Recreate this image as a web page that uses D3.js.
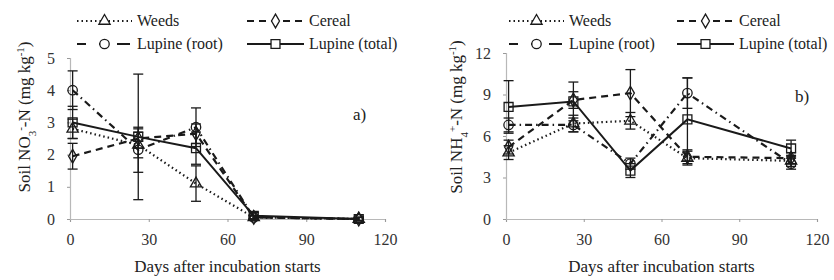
<!DOCTYPE html>
<html>
<head>
<meta charset="utf-8">
<script src="https://cdn.jsdelivr.net/npm/d3@7"></script>
<style>
  body { margin: 0; background: #fff; }
  svg { font-family: "Liberation Serif", "DejaVu Serif", serif; }
</style>
</head>
<body>
<div id="chart"></div>
<script>
// days of sampling
var days = [1, 26, 48, 70, 110];

// panel a) soil NO3-N
var no3Weeds = [2.8, 2.3, 1.1, 0.05, 0.0];
var no3Cereal = [1.95, 2.5, 2.65, 0.05, 0.0];
var no3Root = [4.0, 2.15, 2.85, 0.05, 0.0];
var no3Total = [3.0, 2.55, 2.2, 0.1, 0.0];
var no3WeedsErr = [0.3, 0.4, 0.55, 0.05, 0.05];
var no3CerealErr = [0.4, 0.3, 0.3, 0.05, 0.05];
var no3RootErr = [0.6, 0.7, 0.6, 0.05, 0.05];
var no3TotalErr = [0.5, 1.95, 0.5, 0.1, 0.05];

// panel b) soil NH4-N
var nh4Weeds = [4.8, 6.9, 7.1, 4.4, 4.2];
var nh4Cereal = [5.2, 8.6, 9.1, 4.5, 4.4];
var nh4Root = [6.8, 6.8, 4.0, 9.1, 4.0];
var nh4Total = [8.1, 8.5, 3.5, 7.2, 5.1];
var nh4WeedsErr = [0.5, 0.6, 0.6, 0.5, 0.4];
var nh4CerealErr = [0.5, 0.6, 1.7, 0.5, 0.4];
var nh4RootErr = [0.5, 0.5, 0.4, 1.1, 0.4];
var nh4TotalErr = [1.9, 1.4, 0.5, 3.0, 0.6];

var xTicks = [0, 30, 60, 90, 120];
var no3Ticks = [0, 1, 2, 3, 4, 5];
var nh4Ticks = [0, 3, 6, 9, 12];
var seriesNames = ["Weeds", "Cereal", "Lupine (root)", "Lupine (total)"];

var ink = "#1a1a1a";
var dashes = ["1.5,3", "7,5", "7,4,1.5,4", null];
var shapes = [d3.symbolTriangle, d3.symbolDiamond, d3.symbolCircle, d3.symbolSquare];
var sizes = [55, 55, 70, 80];
var serif = "'Liberation Serif', 'DejaVu Serif', serif";

var svg = d3.select("#chart").append("svg")
    .attr("width", 834)
    .attr("height", 280);

function drawPanel(cfg) {
    var x = d3.scaleLinear().domain([0, 120]).range([cfg.left, cfg.right]);
    var y = d3.scaleLinear().domain([0, cfg.ymax]).range([219, cfg.top]);
    var g = svg.append("g");

    // axes
    var xa = g.append("g").attr("transform", "translate(0,219)")
        .call(d3.axisBottom(x).tickValues(xTicks).tickFormat(d3.format("d")).tickSize(3).tickPadding(12));
    var ya = g.append("g").attr("transform", "translate(" + cfg.left + ",0)")
        .call(d3.axisLeft(y).tickValues(cfg.ticks).tickFormat(d3.format("d")).tickSize(3).tickPadding(12));
    [xa, ya].forEach(function(a) {
        a.attr("font-family", serif).attr("font-size", 16);
        a.select(".domain").attr("stroke", "#b8b8b8").attr("stroke-width", 1.2);
        a.selectAll(".tick line").attr("stroke", "#999");
        a.selectAll("text").attr("fill", "#333");
    });

    var line = d3.line().x(function(d) { return x(d[0]); }).y(function(d) { return y(d[1]); });

    cfg.series.forEach(function(vals, k) {
        var pts = days.map(function(d, i) { return [d, vals[i], cfg.errs[k][i]]; });
        g.append("path").datum(pts)
            .attr("d", line)
            .attr("fill", "none")
            .attr("stroke", ink)
            .attr("stroke-width", k == 3 ? 2 : 2.2)
            .attr("stroke-dasharray", dashes[k]);
        // error bars
        var eb = g.selectAll(".eb" + k).data(pts).enter().append("g");
        eb.append("line")
            .attr("x1", function(d) { return x(d[0]); })
            .attr("x2", function(d) { return x(d[0]); })
            .attr("y1", function(d) { return y(d[1] - d[2]); })
            .attr("y2", function(d) { return y(d[1] + d[2]); })
            .attr("stroke", ink).attr("stroke-width", 1.3);
        [-1, 1].forEach(function(s) {
            eb.append("line")
                .attr("x1", function(d) { return x(d[0]) - 5; })
                .attr("x2", function(d) { return x(d[0]) + 5; })
                .attr("y1", function(d) { return y(d[1] + s * d[2]); })
                .attr("y2", function(d) { return y(d[1] + s * d[2]); })
                .attr("stroke", ink).attr("stroke-width", 1.3);
        });
    });
    cfg.series.forEach(function(vals, k) {
        g.selectAll(".mk" + k).data(vals).enter().append("path")
            .attr("d", d3.symbol().type(shapes[k]).size(sizes[k]))
            .attr("transform", function(d, i) { return "translate(" + x(days[i]) + "," + y(d) + ")"; })
            .attr("fill", "none")
            .attr("stroke", ink).attr("stroke-width", 1.3);
    });

    // legend
    var lg = [[cfg.lx1, 21], [cfg.lx2, 21], [cfg.lx1, 44], [cfg.lx2, 44]];
    seriesNames.forEach(function(name, k) {
        var lx = lg[k][0], ly = lg[k][1];
        var w = k == 0 || k == 2 ? 55 : 57;
        g.append("line").attr("x1", lx).attr("x2", lx + w).attr("y1", ly).attr("y2", ly)
            .attr("stroke", ink).attr("stroke-width", 2)
            .attr("stroke-dasharray", k == 2 ? "9,13,9" : dashes[k]);
        g.append("path").attr("d", d3.symbol().type(shapes[k]).size(sizes[k]))
            .attr("transform", "translate(" + (lx + w / 2) + "," + ly + ")")
            .attr("fill", "#fff").attr("stroke", ink).attr("stroke-width", 1.3);
        g.append("text").attr("x", lx + w + 5).attr("y", ly + 5)
            .attr("fill", "#222").style("font-size", "16px").text(name);
    });

    // panel label
    g.append("text").attr("x", cfg.px).attr("y", cfg.py)
        .attr("fill", "#222").style("font-size", "17px").text(cfg.tag);

    // axis titles
    g.append("text").attr("x", (cfg.left + cfg.right) / 2).attr("y", 272)
        .attr("text-anchor", "middle").attr("fill", "#222")
        .style("font-size", "17px").text("Days after incubation starts");
    var yt = g.append("text")
        .attr("transform", "translate(" + cfg.tx + ",117) rotate(-90)")
        .attr("text-anchor", "middle").attr("fill", "#222").style("font-size", "17px");
    yt.append("tspan").text("Soil " + cfg.ion);
    yt.append("tspan").attr("baseline-shift", "sub").style("font-size", "11px").text(cfg.sub);
    yt.append("tspan").attr("baseline-shift", "super").style("font-size", "11px").text(cfg.sup);
    yt.append("tspan").text("-N (mg kg");
    yt.append("tspan").attr("baseline-shift", "super").style("font-size", "11px").text("-1");
    yt.append("tspan").text(")");
}

drawPanel({
    left: 70, right: 385, top: 58, ymax: 5, ticks: no3Ticks,
    series: [no3Weeds, no3Cereal, no3Root, no3Total],
    errs: [no3WeedsErr, no3CerealErr, no3RootErr, no3TotalErr],
    lx1: 77, lx2: 247, px: 353, py: 120, tag: "a)", tx: 30,
    ion: "NO", sub: "3", sup: "-"
});
drawPanel({
    left: 506, right: 817, top: 53, ymax: 12, ticks: nh4Ticks,
    series: [nh4Weeds, nh4Cereal, nh4Root, nh4Total],
    errs: [nh4WeedsErr, nh4CerealErr, nh4RootErr, nh4TotalErr],
    lx1: 509, lx2: 677, px: 795, py: 102, tag: "b)", tx: 462,
    ion: "NH", sub: "4", sup: "+"
});
</script>
</body>
</html>
